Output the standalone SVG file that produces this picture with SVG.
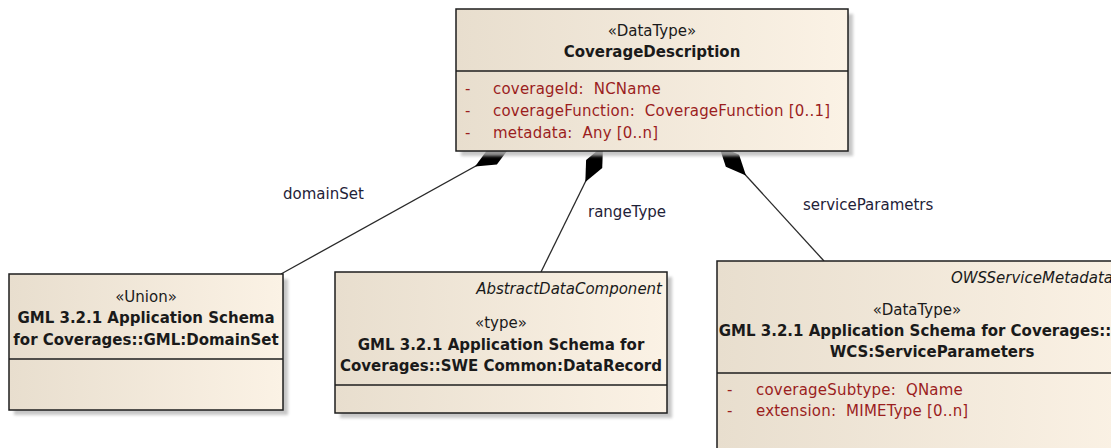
<svg xmlns="http://www.w3.org/2000/svg" width="1111" height="448" viewBox="0 0 1111 448">
<style>
.bg{fill:#ffffff}
.box{fill:url(#fillg);stroke:#1e1e1e;stroke-width:1.5}
.shadow{fill:#b9b9b9;opacity:0.8}
.sep{stroke:#1e1e1e;stroke-width:1.5}
.t{font-family:"DejaVu Sans","Liberation Sans",sans-serif;font-size:15px;fill:#1a1a1a;text-anchor:middle;white-space:pre}
.nm{font-weight:bold}
.it{font-style:italic;text-anchor:end}
.attr{fill:#9b1e1e;text-anchor:start;letter-spacing:0.2px}
.lbl{fill:#1f2238;text-anchor:start}
.conn{fill:none;stroke:#2a2a2a;stroke-width:1.3;marker-start:url(#diamond)}
</style>
<defs>
<linearGradient id="fillg" x1="0" y1="0" x2="1" y2="0">
<stop offset="0" stop-color="#e8dece"/>
<stop offset="1" stop-color="#fbf2e5"/>
</linearGradient>
<filter id="blur" x="-10%" y="-10%" width="130%" height="130%"><feGaussianBlur stdDeviation="1.5"/></filter>
<marker id="diamond" viewBox="-1 -11 44 22" refX="0" refY="0" markerWidth="44" markerHeight="22" markerUnits="userSpaceOnUse" orient="auto">
<path d="M0,0 L20,-9 L40,0 L20,9 Z" fill="#000"/>
</marker>
</defs>
<rect class="bg" x="0" y="0" width="1111" height="448"/>
<g id="connectors">
<path id="c-domainSet" class="conn" d="M510,147 L281,274"/>
<path id="c-rangeType" class="conn" d="M603,146 L541,272"/>
<path id="c-serviceParametrs" class="conn" d="M719,146 L824,261"/>
<text class="t lbl" x="283" y="199">domainSet</text>
<text class="t lbl" x="588" y="217">rangeType</text>
<text class="t lbl" x="803" y="210">serviceParametrs</text>
</g>
<g id="CoverageDescription">
<rect class="shadow" x="461" y="14" width="392" height="142" filter="url(#blur)"/>
<rect class="box" x="456" y="9" width="392" height="142"/>
<line class="sep" x1="456" y1="71" x2="848" y2="71"/>
<text class="t" x="652" y="36">«DataType»</text>
<text class="t nm" x="652" y="57">CoverageDescription</text>
<text class="t attr" x="465" y="94">-</text>
<text class="t attr" x="493" y="94">coverageId:  NCName</text>
<text class="t attr" x="465" y="116">-</text>
<text class="t attr" x="493" y="116">coverageFunction:  CoverageFunction [0..1]</text>
<text class="t attr" x="465" y="138">-</text>
<text class="t attr" x="493" y="138">metadata:  Any [0..n]</text>
</g>
<g id="DomainSet">
<rect class="shadow" x="14" y="279" width="274" height="136" filter="url(#blur)"/>
<rect class="box" x="9" y="274" width="274" height="136"/>
<line class="sep" x1="9" y1="359" x2="283" y2="359"/>
<text class="t" x="146" y="302">«Union»</text>
<text class="t nm" x="146" y="323">GML 3.2.1 Application Schema</text>
<text class="t nm" x="146" y="345">for Coverages::GML:DomainSet</text>
</g>
<g id="DataRecord">
<rect class="shadow" x="340" y="277" width="332" height="141" filter="url(#blur)"/>
<rect class="box" x="335" y="272" width="332" height="141"/>
<line class="sep" x1="335" y1="385" x2="667" y2="385"/>
<text class="t it" x="662" y="294">AbstractDataComponent</text>
<text class="t" x="501" y="328">«type»</text>
<text class="t nm" x="501" y="350">GML 3.2.1 Application Schema for</text>
<text class="t nm" x="501" y="371">Coverages::SWE Common:DataRecord</text>
</g>
<g id="ServiceParameters">
<rect class="shadow" x="722" y="266" width="420" height="200" filter="url(#blur)"/>
<rect class="box" x="717" y="261" width="420" height="200"/>
<line class="sep" x1="717" y1="373" x2="1137" y2="373"/>
<text class="t it" x="1113" y="283">OWSServiceMetadata</text>
<text class="t" x="917" y="315">«DataType»</text>
<text class="t nm" x="915" y="336">GML 3.2.1 Application Schema for Coverages::</text>
<text class="t nm" x="932" y="357">WCS:ServiceParameters</text>
<text class="t attr" x="727" y="395">-</text>
<text class="t attr" x="756" y="395">coverageSubtype:  QName</text>
<text class="t attr" x="727" y="416">-</text>
<text class="t attr" x="756" y="416">extension:  MIMEType [0..n]</text>
</g>
</svg>
